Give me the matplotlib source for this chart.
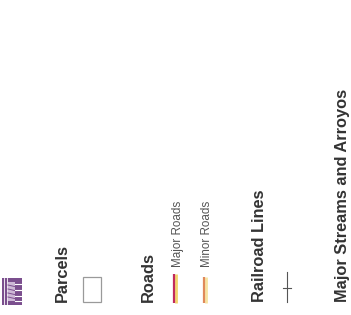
import matplotlib.pyplot as plt
from matplotlib.patches import Rectangle

# legend content (rotated map legend)
headers = ["Parcels", "Roads", "Railroad Lines", "Major Streams and Arroyos"]
header_x = [62, 148, 260, 343]
road_labels = ["Major Roads", "Minor Roads"]
road_x = [178, 207]
road_colors = ["#c22a5c", "#e08a5a"]
road_edge = ["#f2d36a", "#f7e3a0"]

fig = plt.figure(figsize=(3.51, 3.15), dpi=100)
ax = fig.add_axes([0, 0, 1, 1])
ax.set_xlim(0, 351)
ax.set_ylim(315, 0)
ax.axis("off")

font = "Liberation Sans"
base = 302

for h, x in zip(headers, header_x):
    ax.text(x, base, h, rotation=90, rotation_mode="anchor", ha="left", va="center",
            fontsize=11.8, fontweight="bold", color="#333333", family=font)

for lab, x in zip(road_labels, road_x):
    ax.text(x, 267, lab, rotation=90, rotation_mode="anchor", ha="left", va="center",
            fontsize=8.4, color="#555555", family=font)

# road symbols
for i, x in enumerate([174, 204]):
    top = 274 if i == 0 else 277
    ax.plot([x + 1.5, x + 1.5], [top, base + 1], color=road_edge[i], lw=2, solid_capstyle="butt")
    ax.plot([x, x], [top, base + 1], color=road_colors[i], lw=1.6, solid_capstyle="butt")

# parcels box
ax.add_patch(Rectangle((83, 277), 18, 25, fill=False, ec="#9a9a9a", lw=0.9))

# railroad symbol
ax.plot([287, 287], [272, 302], color="#555555", lw=0.8)
ax.plot([283, 291], [288, 288], color="#555555", lw=0.8)

# logo
purple = "#7b4f8e"
ax.add_patch(Rectangle((2, 278), 20, 27, color=purple, lw=0))
for xx in [4, 6.5]:
    ax.plot([xx, xx], [278, 305], color="white", lw=0.6)
for yy in [284, 290, 296, 301]:
    ax.plot([15, 22], [yy, yy], color="white", lw=0.8)
ax.add_patch(Rectangle((8, 282), 6.5, 19, color="#cdb8d6", lw=0))
for yy in [285, 289, 293, 297]:
    ax.plot([8, 14.5], [yy, yy + 1.5], color=purple, lw=0.7)

fig.savefig("out.png", dpi=100, facecolor="white")
